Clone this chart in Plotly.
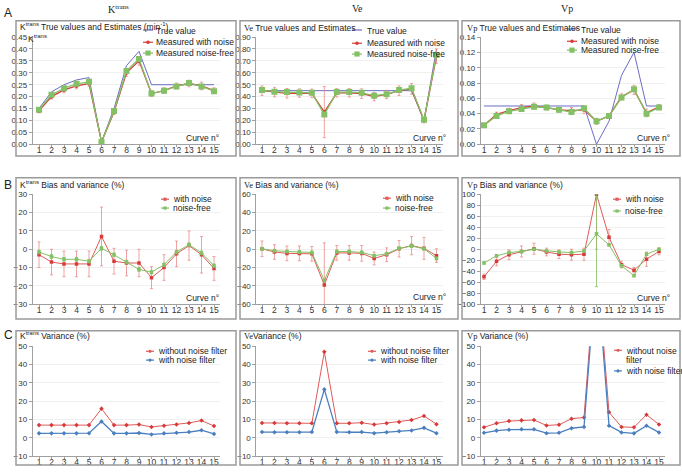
import plotly.graph_objects as go

W, H = 682, 474

curves = list(range(1, 16))
tick_labels = [str(c) for c in curves]

# ---- Row A: true values and estimates ----
ktrans_true = [0.15, 0.22, 0.25, 0.27, 0.28, 0.01, 0.15, 0.33, 0.39, 0.25, 0.25, 0.25, 0.25, 0.25, 0.25]
ktrans_noise = [0.140, 0.200, 0.228, 0.245, 0.255, 0.010, 0.135, 0.300, 0.350, 0.213, 0.225, 0.245, 0.255, 0.245, 0.225]
ktrans_noise_err = [0.008, 0.010, 0.012, 0.012, 0.012, 0.003, 0.010, 0.015, 0.018, 0.012, 0.012, 0.012, 0.014, 0.016, 0.012]
ktrans_nf = [0.145, 0.208, 0.235, 0.254, 0.262, 0.010, 0.140, 0.308, 0.358, 0.213, 0.225, 0.243, 0.257, 0.243, 0.223]
ktrans_nf_err = [0.003] * 15

ve_true = [0.45] * 13 + [0.20, 0.80]
ve_noise = [0.450, 0.438, 0.428, 0.430, 0.428, 0.270, 0.432, 0.432, 0.425, 0.400, 0.418, 0.450, 0.465, 0.200, 0.740]
ve_noise_err = [0.040, 0.040, 0.040, 0.035, 0.035, 0.215, 0.035, 0.035, 0.040, 0.035, 0.035, 0.040, 0.045, 0.020, 0.060]
ve_nf = [0.455, 0.442, 0.438, 0.435, 0.432, 0.250, 0.438, 0.438, 0.432, 0.408, 0.420, 0.455, 0.470, 0.205, 0.750]
ve_nf_err = [0.005] * 15

vp_true = [0.05] * 9 + [0.0, 0.03, 0.09, 0.12, 0.05, 0.05]
vp_noise = [0.025, 0.039, 0.044, 0.048, 0.050, 0.048, 0.045, 0.044, 0.045, 0.030, 0.037, 0.062, 0.071, 0.041, 0.049]
vp_noise_err = [0.002, 0.003, 0.003, 0.004, 0.004, 0.003, 0.003, 0.004, 0.005, 0.004, 0.003, 0.004, 0.006, 0.005, 0.003]
vp_nf = [0.025, 0.037, 0.043, 0.046, 0.049, 0.048, 0.045, 0.042, 0.047, 0.030, 0.037, 0.061, 0.072, 0.040, 0.048]
vp_nf_err = [0.001] * 15

# ---- Row B: bias and variance (%) ----
kt_bias_noise = [-3, -7, -8, -8, -8, 7, -6.5, -7.5, -7.5, -15.5, -10, -2.5, 2, -3, -10.5]
kt_bias_noise_err = [7, 7, 7, 7, 7, 16, 7, 7, 7.5, 6, 7, 7, 8, 10, 6.5]
kt_bias_nf = [-1.5, -4, -5.5, -5.5, -6.5, 0.5, -3, -7, -11, -12.5, -8.5, -1.5, 2.5, -2, -9]
kt_bias_nf_err = [1] * 15

ve_bias_noise = [0.5, -3, -4.5, -4.5, -5, -39, -4, -4, -4.5, -10, -6, 0.5, 4, 1, -7]
ve_bias_noise_err = [8.5, 8, 8, 8, 8, 46, 8, 8, 8.5, 7, 7.5, 9, 10, 12, 7.5]
ve_bias_nf = [0.5, -1.5, -2.5, -3, -3.5, -34, -2.5, -2.5, -3.5, -7, -5, 1, 3.5, 0.5, -10]
ve_bias_nf_err = [1.5] * 15

vp_bias_noise = [-50, -22, -10, -4, 1, -5, -9, -10, -9, 100, 22, -28, -38, -18, -4]
vp_bias_noise_err = [5, 8, 9, 10, 10, 7, 8, 10, 11, 100, 14, 6, 5, 13, 6]
vp_bias_nf = [-25, -12, -6, -4, 0, -3, -5, -6, -3, 28, 8, -30, -48, -9, 0]
vp_bias_nf_err = [2, 2, 2, 2, 2, 2, 2, 2, 2, 96, 2, 2, 2, 2, 2]

# ---- Row C: variance (%) ----
kt_var_nofilter = [7, 7, 7, 7, 7, 16, 7, 7, 7.3, 6, 6.7, 7.3, 8.2, 9.5, 6.5]
kt_var_filter = [2.5, 2.5, 2.5, 2.5, 2.6, 9, 2.5, 2.5, 2.7, 1.9, 2.5, 2.8, 3.2, 4.2, 2.2]
ve_var_nofilter = [8.2, 8.2, 8, 8, 8, 47, 8, 8, 8.3, 7.3, 8, 8.7, 9.8, 12, 7.5]
ve_var_filter = [3.2, 3.1, 3.1, 3.1, 3.2, 26.5, 3.3, 3.1, 3.2, 2.6, 3.1, 3.6, 4.1, 5.5, 2.6]
vp_var_nofilter = [5.8, 8, 9.2, 9.6, 9.8, 6.8, 7.2, 10.5, 11.2, 100, 14, 6, 5.8, 12.7, 7.3]
vp_var_filter = [2.8, 4, 4.5, 4.7, 4.7, 2.6, 2.8, 5.3, 6, 95, 6.7, 3, 2.5, 6.7, 3]

# ---- colours ----
C_TRUE = "#6c6cc6"
C_RED = "#d83a3a"
C_RED_ERR = "#eb8a8a"
C_GREEN = "#84c064"
C_BLUE = "#4a7fbf"
C_RED_C = "#e05a5a"
FONT = "Liberation Sans, Arial, sans-serif"
SERIF = "Liberation Serif, Times New Roman, serif"


def X(px):
    return px / W


def Y(py):
    return 1 - py / H


# column x-domains (px) and ranges
cols = [
    dict(dom=(32.75, 220.25), rng=[0.5, 15.5]),
    dict(dom=(256.4, 442.7), rng=[0.55, 15.5]),
    dict(dom=(480.9, 665.25), rng=[0.75, 15.5]),
]
rows = [(33.7, 143.0), (194.0, 306.0), (349.0, 461.0)]

fig = go.Figure()


def ax_id(r, c):
    return r * 3 + c + 1


y_specs = {
    (0, 0): dict(range=[0, 0.45], dtick=0.05, tickformat=".2f"),
    (0, 1): dict(range=[0, 0.9], dtick=0.1, tickformat=".2f"),
    (0, 2): dict(range=[0, 0.14], dtick=0.02, tickformat=".2f"),
    (1, 0): dict(range=[-30, 30], dtick=10),
    (1, 1): dict(range=[-60, 60], dtick=20),
    (1, 2): dict(range=[-100, 100], dtick=20),
    (2, 0): dict(range=[-10, 50], dtick=10),
    (2, 1): dict(range=[-10, 50], dtick=10),
    (2, 2): dict(range=[-10, 50], dtick=10),
}

layout_axes = {}
for r in range(3):
    for c in range(3):
        i = ax_id(r, c)
        xs = "xaxis" if i == 1 else f"xaxis{i}"
        ys = "yaxis" if i == 1 else f"yaxis{i}"
        ya = "y" if i == 1 else f"y{i}"
        xa = "x" if i == 1 else f"x{i}"
        layout_axes[xs] = dict(
            domain=[X(cols[c]["dom"][0]), X(cols[c]["dom"][1])],
            range=cols[c]["rng"], anchor=ya,
            tickmode="array", tickvals=curves, ticktext=tick_labels,
            showgrid=False, zeroline=False, showline=True, linecolor="#a0a0a0", linewidth=1,
            ticks="outside", ticklen=2, tickcolor="#a0a0a0", ticklabelstandoff=-4,
            tickfont=dict(family=FONT, size=8.5, color="#333"), fixedrange=True,
        )
        spec = y_specs[(r, c)]
        layout_axes[ys] = dict(
            domain=[Y(rows[r][1]), Y(rows[r][0])], anchor=xa,
            range=spec["range"], dtick=spec["dtick"], tick0=0,
            tickformat=spec.get("tickformat", ""),
            showgrid=True, gridcolor="#f0f0f0", gridwidth=1, zeroline=False,
            showline=True, linecolor="#a0a0a0", linewidth=1,
            ticks="outside", ticklen=3, tickcolor="#a0a0a0",
            tickfont=dict(family=FONT, size=8, color="#333"), fixedrange=True,
        )


def axes_of(r, c):
    i = ax_id(r, c)
    return ("x" if i == 1 else f"x{i}"), ("y" if i == 1 else f"y{i}")


def err(arr, color):
    return dict(type="data", array=arr, visible=True, color=color, thickness=0.8, width=1.5)


# Row A
rowA = [
    (ktrans_true, ktrans_noise, ktrans_noise_err, ktrans_nf, ktrans_nf_err),
    (ve_true, ve_noise, ve_noise_err, ve_nf, ve_nf_err),
    (vp_true, vp_noise, vp_noise_err, vp_nf, vp_nf_err),
]
for c, (tv, nz, nze, nf, nfe) in enumerate(rowA):
    xa, ya = axes_of(0, c)
    fig.add_trace(go.Scatter(x=curves, y=tv, mode="lines", line=dict(color=C_TRUE, width=1),
                             xaxis=xa, yaxis=ya, showlegend=False))
    fig.add_trace(go.Scatter(x=curves, y=nz, mode="lines+markers", line=dict(color=C_RED, width=1.3),
                             marker=dict(color=C_RED, size=4, symbol="circle"),
                             error_y=err(nze, C_RED_ERR), xaxis=xa, yaxis=ya, showlegend=False))
    fig.add_trace(go.Scatter(x=curves, y=nf, mode="lines+markers", line=dict(color=C_GREEN, width=1.3),
                             marker=dict(color=C_GREEN, size=6, symbol="square"),
                             error_y=err(nfe, C_GREEN), xaxis=xa, yaxis=ya, showlegend=False))

# Row B
rowB = [
    (kt_bias_noise, kt_bias_noise_err, kt_bias_nf, kt_bias_nf_err),
    (ve_bias_noise, ve_bias_noise_err, ve_bias_nf, ve_bias_nf_err),
    (vp_bias_noise, vp_bias_noise_err, vp_bias_nf, vp_bias_nf_err),
]
for c, (nz, nze, nf, nfe) in enumerate(rowB):
    xa, ya = axes_of(1, c)
    fig.add_trace(go.Scatter(x=curves, y=nz, mode="lines+markers", line=dict(color=C_RED_C, width=1),
                             marker=dict(color=C_RED, size=3.5, symbol="square"),
                             error_y=err(nze, C_RED_ERR), xaxis=xa, yaxis=ya, showlegend=False))
    fig.add_trace(go.Scatter(x=curves, y=nf, mode="lines+markers", line=dict(color=C_GREEN, width=1),
                             marker=dict(color=C_GREEN, size=3.5, symbol="square"),
                             error_y=err(nfe, C_GREEN), xaxis=xa, yaxis=ya, showlegend=False))

# Row C
rowC = [
    (kt_var_nofilter, kt_var_filter),
    (ve_var_nofilter, ve_var_filter),
    (vp_var_nofilter, vp_var_filter),
]
for c, (nof, f) in enumerate(rowC):
    xa, ya = axes_of(2, c)
    fig.add_trace(go.Scatter(x=curves, y=nof, mode="lines+markers", line=dict(color=C_RED_C, width=1),
                             marker=dict(color=C_RED, size=3.5, symbol="diamond"),
                             xaxis=xa, yaxis=ya, showlegend=False))
    fig.add_trace(go.Scatter(x=curves, y=f, mode="lines+markers", line=dict(color=C_BLUE, width=1.3),
                             marker=dict(color=C_BLUE, size=3.5, symbol="diamond"),
                             xaxis=xa, yaxis=ya, showlegend=False))

shapes = []
annotations = []


def text(px, py, s, size=8.5, anchor="left", family=FONT, color="#222", yanchor="middle"):
    annotations.append(dict(x=X(px), y=Y(py), xref="paper", yref="paper", text=s, showarrow=False,
                            xanchor=anchor, yanchor=yanchor, font=dict(family=family, size=size, color=color)))


# panel borders
panel_x = [(16, 236), (240, 458), (462, 680)]
panel_y = [(17, 155), (177, 321), (333, 470)]
for (y0, y1) in panel_y:
    for (x0, x1) in panel_x:
        shapes.append(dict(type="rect", xref="paper", yref="paper", x0=X(x0), x1=X(x1), y0=Y(y1), y1=Y(y0),
                           line=dict(color="#9a9a9a", width=1.5), fillcolor="rgba(0,0,0,0)", layer="above"))

# column headers & row letters
text(118, 5, "K<sup>trans</sup>", size=10, anchor="center", family=SERIF)
text(357, 5, "Ve", size=10, anchor="center", family=SERIF)
text(567, 5, "Vp", size=10, anchor="center", family=SERIF)
text(2, 9, "A", size=12)
text(2, 184, "B", size=12)
text(2, 337, "C", size=12)

V_E = '<span style="font-family:Liberation Serif">Ve</span>'
V_P = '<span style="font-family:Liberation Serif">Vp</span>'

# panel titles
text(18, 23, "K<sup>trans</sup> True values and Estimates (min<sup>-1</sup>)")
text(26, 35, "K<sup>trans</sup>", size=8.5)
text(242, 24, V_E + " True values and Estimates")
text(465, 24, V_P + " True values and Estimates")
text(18, 184, "K<sup>trans</sup> Bias and variance (%)")
text(242, 184, V_E + " Bias and variance (%)")
text(465, 184, V_P + " Bias and variance (%)")
text(18, 338, "K<sup>trans</sup> Variance (%)")
text(242, 338, V_E + "Variance (%)")
text(465, 338, V_P + " Variance (%)")

# Curve n° labels
for xr, yy in [(221, 137), (448, 137), (672, 137), (221, 300), (448, 299), (672, 300)]:
    text(xr, yy, "Curve n°", anchor="right")


def leg_line(xc, yy, color, half=5, marker=None, msize=2.2):
    shapes.append(dict(type="line", xref="paper", yref="paper", x0=X(xc - half), x1=X(xc + half),
                       y0=Y(yy), y1=Y(yy), line=dict(color=color, width=1.2)))
    if marker == "square":
        shapes.append(dict(type="rect", xref="paper", yref="paper", x0=X(xc - msize), x1=X(xc + msize),
                           y0=Y(yy + msize), y1=Y(yy - msize), line=dict(width=0), fillcolor=color))
    elif marker == "circle":
        shapes.append(dict(type="circle", xref="paper", yref="paper", x0=X(xc - msize), x1=X(xc + msize),
                           y0=Y(yy + msize), y1=Y(yy - msize), line=dict(width=0), fillcolor=color))


# Row A legends
for sx, tx, ys in [(148, 154, (28, 39, 50)), (357, 365, (28, 40, 51)), (572, 579, (27, 38, 47))]:
    leg_line(sx, ys[0] - 1.5, C_TRUE)
    text(tx, ys[0], "True value")
    leg_line(sx, ys[1], C_RED, marker="circle", msize=1.8)
    text(tx, ys[1], "Measured with noise")
    leg_line(sx, ys[2], C_GREEN, marker="square", msize=2.6)
    text(tx, ys[2], "Measured noise-free")

# Row B legends
for sx, tx, ys in [(165, 171, (199, 208)), (387, 393, (198, 208)), (617, 623, (199, 211))]:
    leg_line(sx, ys[0], C_RED_C, half=4, marker="square", msize=1.6)
    text(tx, ys[0], "with noise")
    leg_line(sx, ys[1], C_GREEN, half=4, marker="square", msize=1.6)
    text(tx, ys[1], "noise-free")

# Row C legends
for sx, tx in [(150, 156), (372, 378)]:
    leg_line(sx, 354, C_RED_C, half=4, marker="circle", msize=1.6)
    text(tx, 354, "without noise filter")
    leg_line(sx, 363, C_BLUE, half=4, marker="circle", msize=1.6)
    text(tx, 363, "with noise filter")
leg_line(618, 353, C_RED_C, half=4, marker="circle", msize=1.6)
text(624, 354, "without noise")
text(624, 363, "filter")
leg_line(618, 374, C_BLUE, half=4, marker="circle", msize=1.6)
text(624, 374, "with noise filter")

fig.update_layout(
    width=W, height=H, margin=dict(l=0, r=0, t=0, b=0),
    paper_bgcolor="white", plot_bgcolor="white",
    showlegend=False, shapes=shapes, annotations=annotations,
    font=dict(family=FONT),
    **layout_axes,
)

fig.write_html("out.html", config={"displayModeBar": False},
               post_script="document.body.style.margin='0';document.body.style.overflow='hidden';")
